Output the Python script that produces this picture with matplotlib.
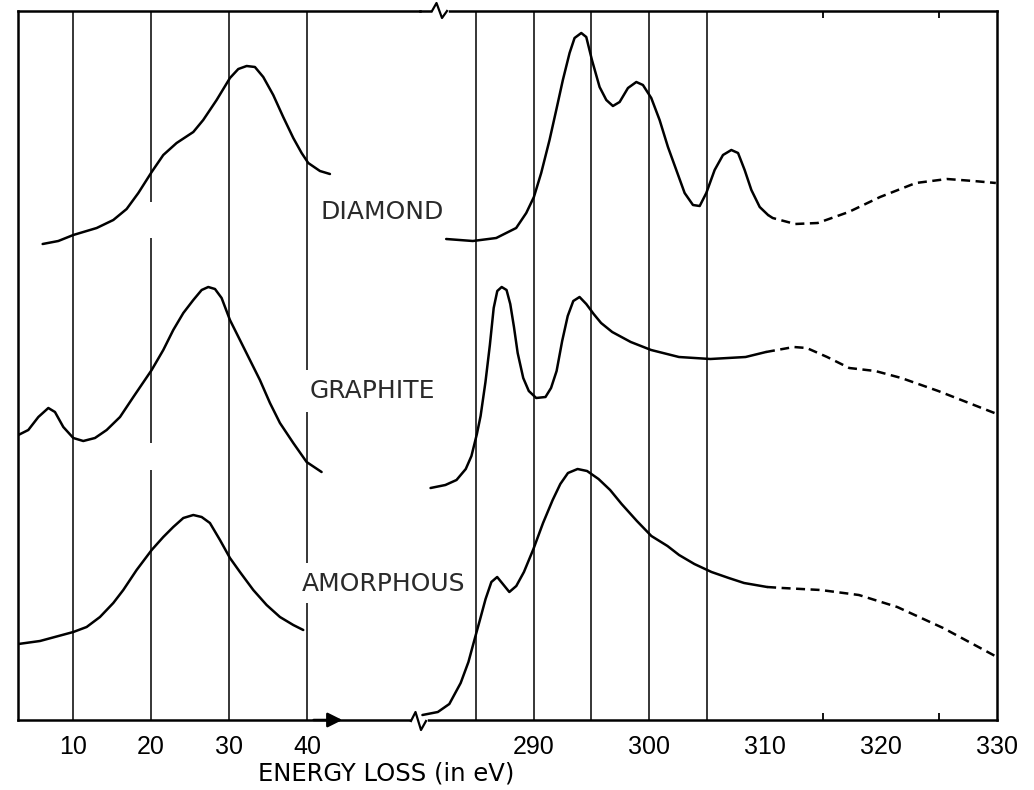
#!/usr/bin/env python3
"""
Electron energy loss spectra of diamond, graphite and amorphous carbon
(broken energy axis: plasmon region on the left, carbon K-edge on the right)
"""

import matplotlib
matplotlib.use("Agg")
import matplotlib.pyplot as plt
from matplotlib.lines import Line2D

# ---------------- data (intensity in arbitrary units, offset per sample) ----------------
# low-loss region (eV)
diamond_lo_e = [6.11, 8.12, 10.04, 13.04, 15.17, 16.88, 18.38, 20.09, 21.58, 23.29, 25.43, 26.7,
                28.42, 30.13, 31.2, 32.27, 33.33, 34.4, 35.68, 36.96, 38.25, 39.32, 40.17, 41.67, 42.95]
diamond_lo_i = [476, 479, 485, 492, 500, 511, 527, 548, 565, 577, 588, 600,
                620, 642, 651, 654, 653, 643, 625, 603, 582, 567, 557, 549, 546]

graphite_lo_e = [2.99, 4.27, 5.56, 6.84, 7.69, 8.76, 10.04, 11.32, 12.82, 14.32, 16.03, 17.74,
                 20.09, 21.58, 22.86, 24.15, 25.43, 26.5, 27.35, 28.21, 29.06, 30.13, 31.41,
                 32.69, 33.97, 35.26, 36.54, 38.25, 39.96, 41.88]
graphite_lo_i = [285, 290, 303, 312, 308, 293, 282, 279, 282, 290, 303, 323,
                 350, 370, 390, 407, 420, 430, 433, 431, 422, 400, 380,
                 360, 340, 317, 297, 277, 258, 248]

amorph_lo_e = [2.99, 5.77, 10.04, 11.75, 13.46, 15.17, 16.45, 18.16, 20.09, 21.58, 22.86, 24.15,
               25.43, 26.5, 27.56, 28.85, 30.13, 31.41, 33.12, 34.83, 36.54, 38.25, 39.53]
amorph_lo_i = [76, 79, 88, 93, 103, 117, 130, 150, 170, 183, 193, 202,
               205, 203, 197, 180, 162, 148, 130, 115, 103, 95, 90]

# K-edge region (eV), measured part
diamond_hi_e = [282.46, 284.76, 286.78, 288.5, 289.37, 290.03, 290.66, 291.38, 291.96, 292.53, 293.11,
                293.54, 294.12, 294.55, 295.04, 295.7, 296.28, 296.85, 297.43, 298.15, 298.87, 299.44,
                300.16, 300.88, 301.6, 302.32, 303.04, 303.76, 304.34, 304.91, 305.63, 306.35, 307.07,
                307.65, 308.22, 308.8, 309.52, 310.24]
diamond_hi_i = [481, 479, 482, 492, 507, 523, 547, 580, 610, 640, 667,
                682, 687, 683, 660, 633, 620, 614, 618, 632, 638, 635,
                622, 600, 573, 550, 527, 515, 514, 527, 550, 565, 570,
                567, 550, 530, 513, 505]
# extrapolated part (dashed)
diamond_ex_e = [310.24, 310.64, 312.58, 314.52, 317.2, 319.91, 322.99, 325.69, 327.99, 329.9]
diamond_ex_i = [505, 502, 496, 497, 508, 523, 537, 541, 539, 537]

graphite_hi_e = [281.11, 282.39, 283.35, 284.15, 284.64, 285.11, 285.43, 285.85, 286.23, 286.56,
                 286.87, 287.25, 287.67, 287.99, 288.31, 288.63, 289.11, 289.59, 290.23, 291.03,
                 291.51, 291.99, 292.47, 292.95, 293.43, 293.97, 294.55, 295.19, 295.83, 296.79,
                 298.39, 300.15, 302.55, 305.26, 308.3, 310.06]
graphite_hi_i = [232, 235, 240, 251, 264, 286, 304, 338, 375, 412,
                 429, 433, 430, 416, 393, 367, 342, 329, 322, 323,
                 332, 349, 379, 404, 419, 423, 416, 406, 397, 388,
                 378, 370, 363, 361, 363, 368]
graphite_ex_e = [310.06, 312.46, 313.58, 315.34, 317.25, 319.5, 321.74, 324.93, 330.0]
graphite_ex_i = [368, 373, 372, 363, 352, 349, 342, 329, 306]

amorph_hi_e = [280.41, 281.74, 282.73, 283.71, 284.38, 284.87, 285.37, 285.86, 286.36, 286.86,
               287.35, 287.91, 288.51, 289.17, 289.99, 290.82, 291.65, 292.31, 292.97, 293.8,
               294.62, 295.61, 296.61, 297.6, 298.92, 300.17, 301.56, 302.56, 303.88, 305.36,
               306.85, 308.17, 310.16]
amorph_hi_i = [5, 8, 16, 37, 58, 79, 100, 121, 138, 143,
               136, 128, 134, 148, 171, 197, 220, 236, 247, 251,
               249, 241, 230, 216, 199, 184, 174, 165, 156, 148,
               142, 137, 133]
amorph_ex_e = [310.16, 311.48, 314.78, 318.08, 321.39, 325.35, 330.0]
amorph_ex_i = [133, 132, 130, 125, 113, 92, 63]

lo_ticks = [10, 20, 30, 40]
hi_ticks = [290, 300, 310, 320, 330]
hi_minor = [310, 315, 320, 325]
hi_grid = [285, 290, 295, 300, 305]

labels = ['DIAMOND', 'GRAPHITE', 'AMORPHOUS']
label_pos = [(41.7, 508), (40.4, 329), (39.4, 136)]

W, H = 1034, 790
LW_CURVE = 1.8
LW_FRAME = 1.8
LW_GRID = 1.1
DASH = (0, (3.6, 2.2))


def fx(px):
    return px / W


def fy(py):
    return 1 - py / H


fig = plt.figure(figsize=(W / 100, H / 100), dpi=100)
fig.patch.set_facecolor('white')

bottom = fy(720)
height = 709 / H
ax1 = fig.add_axes([fx(18), bottom, fx(420) - fx(18), height])
ax2 = fig.add_axes([fx(420), bottom, fx(997) - fx(420), height])

ax1.set_xlim(2.95, 54.5)
ax2.set_xlim(280.2, 330.0)
for ax in (ax1, ax2):
    ax.set_ylim(0, 709)
    ax.set_facecolor('none')
    ax.set_yticks([])
    for s in ax.spines.values():
        s.set_linewidth(LW_FRAME)
ax1.spines['right'].set_visible(False)
ax2.spines['left'].set_visible(False)

# vertical reference lines (with gaps where labels sit)
for e in [10, 30]:
    ax1.axvline(e, color='k', lw=LW_GRID, zorder=1)
ax1.vlines([20, 20, 20], [0, 277, 518], [250, 482, 709], color='k', lw=LW_GRID, zorder=1)
ax1.vlines([40, 40, 40], [0, 157, 350], [117, 308, 709], color='k', lw=LW_GRID, zorder=1)
for e in hi_grid:
    ax2.axvline(e, color='k', lw=LW_GRID, zorder=1)

# ticks
ax1.set_xticks(lo_ticks)
ax1.set_xticklabels([str(t) for t in lo_ticks])
ax2.set_xticks(hi_ticks)
ax2.set_xticklabels([str(t) for t in hi_ticks])
ax2.set_xticks(hi_minor, minor=True)
for ax in (ax1, ax2):
    ax.tick_params(axis='x', which='major', length=0, pad=11, labelsize=18,
                   labelfontfamily='Liberation Sans')
ax2.tick_params(axis='x', which='minor', direction='in', length=5, width=1.3,
                top=True, bottom=True)

# curves
kw = dict(color='k', lw=LW_CURVE, solid_capstyle='round', solid_joinstyle='round', zorder=3)
ax1.plot(diamond_lo_e, diamond_lo_i, **kw)
ax1.plot(graphite_lo_e, graphite_lo_i, **kw)
ax1.plot(amorph_lo_e, amorph_lo_i, **kw)

ax2.plot(diamond_hi_e, diamond_hi_i, **kw)
ax2.plot(graphite_hi_e, graphite_hi_i, **kw)
ax2.plot(amorph_hi_e, amorph_hi_i, **kw)

kwd = dict(color='k', lw=LW_CURVE, linestyle=DASH, zorder=3)
ax2.plot(diamond_ex_e, diamond_ex_i, **kwd)
ax2.plot(graphite_ex_e, graphite_ex_i, **kwd)
ax2.plot(amorph_ex_e, amorph_ex_i, **kwd)

# sample labels
for lab, (x, y) in zip(labels, label_pos):
    ax1.text(x, y, lab, ha='left', va='center', fontsize=18, color='#2a2a2a',
             family='DejaVu Sans', clip_on=False, zorder=5)

# arrow on the energy axis
ax1.annotate('', xy=(44.9, 0), xytext=(40.5, 0), xycoords='data',
             arrowprops=dict(arrowstyle='-|>', color='k', lw=LW_FRAME, mutation_scale=22),
             annotation_clip=False, zorder=6)

# axis break marks (zigzags on bottom and top frame lines)
fig.add_artist(Line2D([fx(413.5), fx(424.5)], [fy(721), fy(721)], color='white', lw=4,
                      transform=fig.transFigure, zorder=10))
fig.add_artist(Line2D([fx(411), fx(415.5), fx(421), fx(426)],
                      [fy(721), fy(712), fy(730), fy(721)], color='k', lw=1.6,
                      transform=fig.transFigure, zorder=11))
fig.add_artist(Line2D([fx(434.5), fx(445.5)], [fy(11), fy(11)], color='white', lw=4,
                      transform=fig.transFigure, zorder=10))
fig.add_artist(Line2D([fx(432), fx(436.5), fx(442), fx(447)],
                      [fy(11), fy(3), fy(18), fy(11)], color='k', lw=1.6,
                      transform=fig.transFigure, zorder=11))

fig.text(fx(386), fy(773), 'ENERGY LOSS (in eV)', ha='center', va='center',
         fontsize=17.5, family='DejaVu Sans')

fig.savefig('out.png', dpi=100, facecolor='white')
